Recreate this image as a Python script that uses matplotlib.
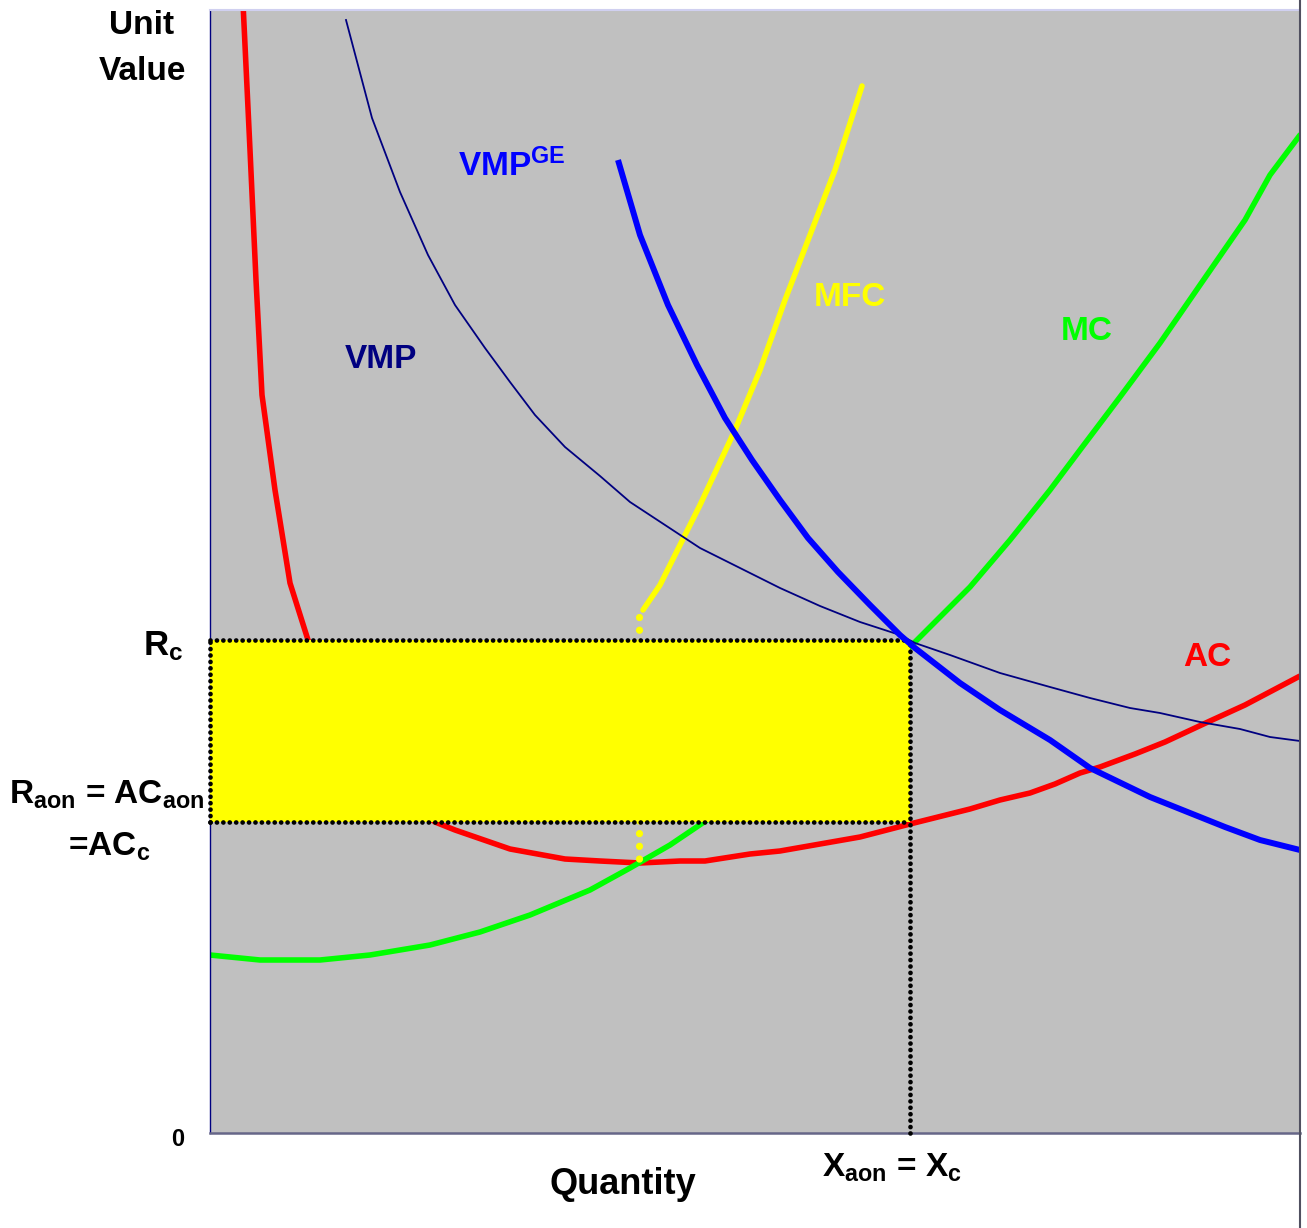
import matplotlib
matplotlib.use("Agg")
import matplotlib.pyplot as plt
from matplotlib.lines import Line2D
from matplotlib.patches import Rectangle

plt.rcParams['font.family'] = ['Liberation Sans', 'DejaVu Sans']
plt.rcParams['font.weight'] = 'bold'
plt.rcParams['mathtext.fontset'] = 'custom'
plt.rcParams['mathtext.rm'] = 'Liberation Sans:bold'
plt.rcParams['mathtext.it'] = 'Liberation Sans:bold'
plt.rcParams['mathtext.bf'] = 'Liberation Sans:bold'

# ---- data (quantity, unit value) ----
ac_x = [33, 40, 46, 52, 65, 80, 98, 120, 150, 190, 225, 245, 300, 355, 390, 430, 470, 495, 540, 570,
        610, 650, 700, 760, 790, 820, 845, 870, 890, 925, 955, 1000, 1035, 1090]
ac_y = [1130, 983, 853, 738, 643, 550, 493, 443, 388, 338, 311, 303, 284, 274, 272, 270, 272, 272, 279, 282,
        289, 296, 309, 324, 333, 340, 349, 360, 366, 379, 391, 412, 428, 457]

mc_x = [0, 50, 110, 160, 220, 270, 320, 380, 420, 460, 500, 550, 610, 660, 702, 760, 800, 840, 870, 910,
        950, 990, 1035, 1060, 1090]
mc_y = [178, 173, 173, 178, 188, 201, 218, 243, 265, 288, 315, 353, 403, 445, 488, 546, 593, 643, 683, 736,
        790, 848, 913, 958, 998]

mfc_x = [652, 625, 600, 575, 550, 525, 490, 470, 450, 433]
mfc_y = [1047, 963, 898, 833, 763, 703, 628, 588, 548, 523]
mfc_drop_x = [429, 429]
mfc_drop_y = [516, 272]

vmpge_x = [408, 430, 458, 487, 515, 542, 570, 598, 628, 660, 690, 705, 750, 790, 840, 880, 940, 980, 1015, 1050, 1090]
vmpge_y = [973, 898, 828, 768, 715, 673, 633, 595, 561, 528, 498, 485, 450, 423, 393, 365, 336, 320, 306, 293, 283]

vmp_x = [136, 162, 190, 218, 245, 275, 300, 325, 355, 390, 420, 455, 490, 530, 570, 610, 650, 690, 705,
         740, 790, 840, 880, 920, 950, 990, 1030, 1060, 1090]
vmp_y = [1113, 1015, 941, 878, 828, 785, 751, 718, 686, 657, 631, 608, 585, 565, 545, 527, 511, 498, 490,
         478, 460, 446, 435, 425, 420, 411, 404, 396, 392]

x_c = 700          # X_aon = X_c
r_c = 493          # R_c
r_aon = 311        # R_aon = AC_aon = AC_c

X_MAX, Y_MAX = 1090, 1123

W, H = 1307, 1228
fig = plt.figure(figsize=(W / 100, H / 100), dpi=100)
ax = fig.add_axes([210 / W, (H - 1133) / H, 1090 / W, 1123 / H])
ax.set_xlim(0, X_MAX)
ax.set_ylim(0, Y_MAX)
ax.set_facecolor('#C0C0C0')
ax.set_xticks([])
ax.set_yticks([])
ax.spines['left'].set_color('#000080')
ax.spines['left'].set_linewidth(1.0)
ax.spines['bottom'].set_color('#666688')
ax.spines['bottom'].set_linewidth(1.8)
ax.spines['top'].set_color('#D0D0F0')
ax.spines['top'].set_linewidth(1.5)
ax.spines['right'].set_visible(False)

# curves under the rectangle
ax.plot(ac_x, ac_y, color='#FF0000', lw=4.0, zorder=2, solid_capstyle='butt')
ax.plot(mc_x, mc_y, color='#00FF00', lw=4.0, zorder=2, solid_capstyle='round')
ax.plot(mfc_x, mfc_y, color='#FFFF00', lw=4.0, zorder=2, solid_capstyle='round')
ax.plot(mfc_drop_x, mfc_drop_y, color='#FFFF00', lw=5.2, zorder=2,
        linestyle=(0, (0.01, 1.75)), dash_capstyle='round')

# rectangle
ax.add_patch(Rectangle((0, r_aon), x_c, r_c - r_aon, facecolor='#FFFF00', edgecolor='none', zorder=3))
dot = dict(color='black', lw=3.4, linestyle=(0, (0.01, 1.35)), dash_capstyle='round', zorder=4, clip_on=False)
ax.plot([0, x_c], [r_c, r_c], **dot)
ax.plot([0, x_c], [r_aon, r_aon], **dot)
ax.plot([0, 0], [r_aon, r_c], **dot)
ax.plot([x_c, x_c], [0, r_c], **dot)

# demand curves on top
ax.plot(vmp_x, vmp_y, color='#000080', lw=1.3, zorder=5)
ax.plot(vmpge_x, vmpge_y, color='#0000FF', lw=4.3, zorder=5, solid_capstyle='butt')

# right frame line
fig.add_artist(Line2D([1299.5 / W, 1299.5 / W], [0, 1], transform=fig.transFigure, color='#505060', lw=1.5))

# labels inside
ax.text(171, 773, 'VMP', color='#000080', fontsize=24, ha='center', va='center')
ax.text(248, 957, 'VMP$^{GE}$', color='#0000FF', fontsize=24, ha='left', va='baseline')
ax.text(640, 835, 'MFC', color='#FFFF00', fontsize=24, ha='center', va='center')
ax.text(877, 802, 'MC', color='#00FF00', fontsize=24, ha='center', va='center')
ax.text(997, 476, 'AC', color='#FF0000', fontsize=24, ha='center', va='center')

# labels outside
ax.text(-68, 1107, 'Unit', fontsize=24, ha='center', va='center', clip_on=False)
ax.text(-68, 1061, 'Value', fontsize=24, ha='center', va='center', clip_on=False)
ax.text(-27, 478, 'R$_{c}$', fontsize=25, ha='right', va='baseline', clip_on=False)
ax.text(-5, 329, 'R$_{aon}$ = AC$_{aon}$', fontsize=24, ha='right', va='baseline', clip_on=False)
ax.text(-142, 277, '=AC$_{c}$', fontsize=24, ha='left', va='baseline', clip_on=False)
ax.text(-32, -7, '0', fontsize=17, ha='center', va='center', clip_on=False)
ax.text(413, -52, 'Quantity', fontsize=26, ha='center', va='center', clip_on=False)
ax.text(612, -44, 'X$_{aon}$ = X$_{c}$', fontsize=24, ha='left', va='baseline', clip_on=False)

fig.savefig('out.png', dpi=100)
